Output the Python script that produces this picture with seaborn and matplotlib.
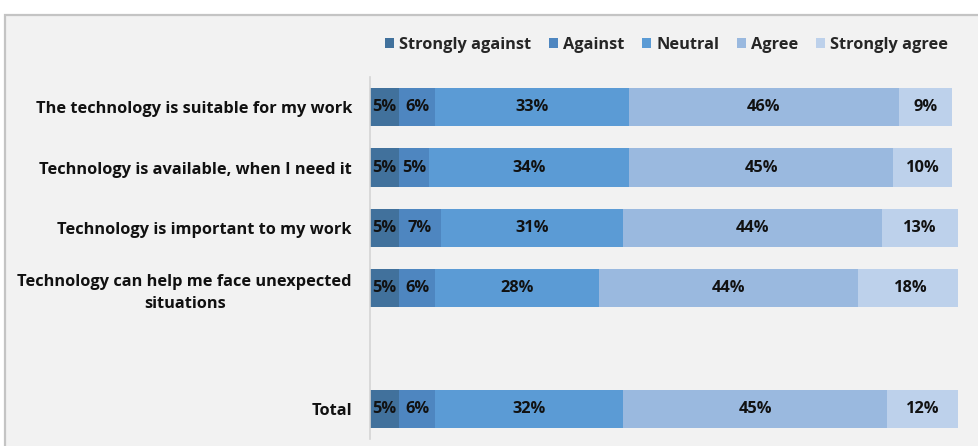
import matplotlib
matplotlib.use("Agg")
import matplotlib.pyplot as plt
from matplotlib.patches import Rectangle, Patch
import numpy as np
import pandas as pd
import seaborn as sns

# Survey statements (blank slot separates the items from the total row)
statements = [
    "The technology is suitable for my work",
    "Technology is available, when I need it",
    "Technology is important to my work",
    "Technology can help me face unexpected\nsituations",
    " ",
    "Total",
]
responses = ["Strongly against", "Against", "Neutral", "Agree", "Strongly agree"]

strongly_against = [5, 5, 5, 5, 5]
against = [6, 5, 7, 6, 6]
neutral = [33, 34, 31, 28, 32]
agree = [46, 45, 44, 44, 45]
strongly_agree = [9, 10, 13, 18, 12]

rows = [s for s in statements if s.strip()]
colors = ["#41719c", "#4e86c0", "#5b9bd5", "#9ab9df", "#bdd1eb"]
bg = "#f2f2f2"
FONT = ["Open Sans", "DejaVu Sans"]
FS = 11.8

sns.set_theme(style="white")
plt.rcParams["font.family"] = FONT
plt.rcParams["font.weight"] = "bold"

fig = plt.figure(figsize=(9.79, 4.46), dpi=100, facecolor="white")
W, H = 979, 446
fig.patches.append(Rectangle((5 / W, -0.01), 1.0, (H - 15) / H + 0.01,
                             transform=fig.transFigure, facecolor=bg,
                             edgecolor="#c4c4c4", linewidth=1.6, zorder=-10))

ax = fig.add_axes([370 / W, (H - 439) / H, 588 / W, 362 / H])
ax.set_facecolor("none")

values = np.array([strongly_against, against, neutral, agree, strongly_agree], dtype=float)
cum = np.cumsum(values, axis=0)

# Stacked bars: draw cumulative totals from the widest down so each segment shows
for i in range(len(responses) - 1, -1, -1):
    df = pd.DataFrame({"statement": rows, "value": cum[i]})
    sns.barplot(data=df, x="value", y="statement", order=statements,
                color=colors[i], saturation=1, width=0.63, ax=ax,
                edgecolor="none", linewidth=0)

# Segment value labels
for i in range(len(responses)):
    for j, row in enumerate(rows):
        pos = statements.index(row)
        start = cum[i][j] - values[i][j]
        ax.text(start + values[i][j] / 2, pos, f"{int(values[i][j])}%",
                ha="center", va="center", fontsize=FS, fontweight="bold",
                color="#111111")

ax.set_xlim(0, 100)
ax.set_ylim(len(statements) - 0.5, -0.5)
ax.set_xlabel("")
ax.set_ylabel("")
ax.set_xticks([])
ax.tick_params(axis="y", length=0, pad=13, labelsize=FS, labelcolor="#111111")
for lbl in ax.get_yticklabels():
    lbl.set_fontweight("bold")
    lbl.set_multialignment("center")
    lbl.set_linespacing(1.45)
for side in ["top", "right", "bottom"]:
    ax.spines[side].set_visible(False)
ax.spines["left"].set_color("#d4d4d4")
ax.spines["left"].set_linewidth(1.2)

handles = [Patch(facecolor=c, edgecolor="none", label=r) for c, r in zip(colors, responses)]
fig.legend(handles=handles, loc="center", ncol=5,
           bbox_to_anchor=((383 + 950) / 2 / W, 1 - 45 / H),
           frameon=False, handlelength=0.55, handleheight=0.55,
           handletextpad=0.3, columnspacing=1.1,
           prop={"family": FONT, "weight": "bold", "size": FS})

fig.savefig("out.png", dpi=100, facecolor="white")
